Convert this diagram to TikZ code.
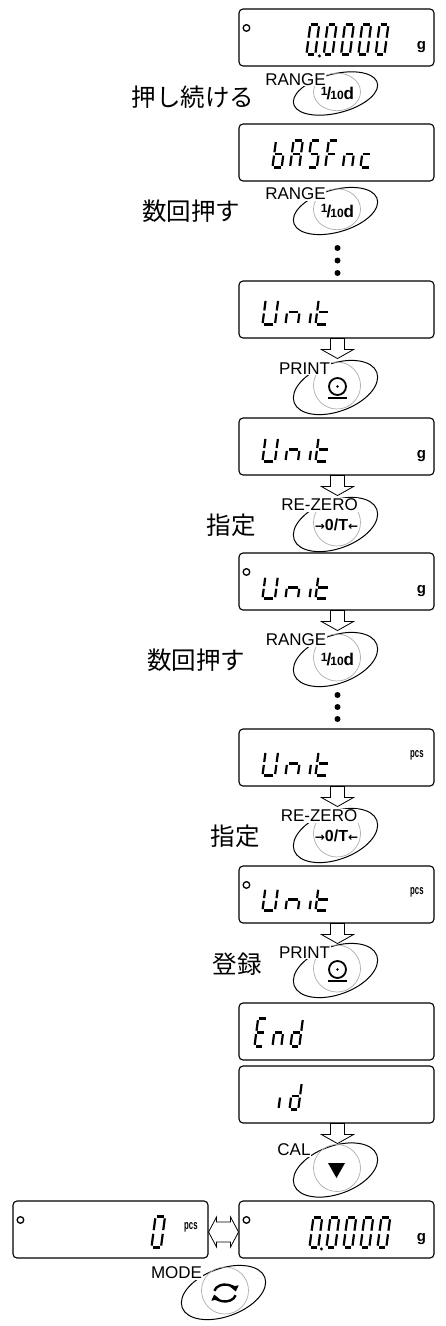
\documentclass[tikz,border=0pt]{standalone}
\usepackage{fontspec}
\setmainfont{Liberation Sans}
\newfontfamily\jpfont{Noto Sans CJK JP}
\newfontfamily\symfont{DejaVu Sans}
\usetikzlibrary{calc,arrows.meta}

% seven segment pieces, cell 1 wide and 2 high
\def\sega{\draw[segline] (0.12,2) -- (0.88,2);}
\def\segb{\draw[segline] (1,1.88) -- (1,1.12);}
\def\segc{\draw[segline] (1,0.88) -- (1,0.12);}
\def\segd{\draw[segline] (0.12,0) -- (0.88,0);}
\def\sege{\draw[segline] (0,0.12) -- (0,0.88);}
\def\segf{\draw[segline] (0,1.12) -- (0,1.88);}
\def\segg{\draw[segline] (0.12,1) -- (0.88,1);}
\def\chzero{a,b,c,d,e,f}
\def\chU{b,c,d,e,f}
\def\chn{c,e,g}
\def\chi{e}
\def\cht{d,e,f,g}
\def\chd{b,c,d,e,g}

% x, y (lower left), width, height, segments
\newcommand{\segchar}[5]{%
  \begin{scope}[shift={(#1,#2)}, x={(#3pt,0pt)}, y={({0.066*#4pt},{0.5*#4pt})}]
    \edef\seglist{#5}%
    \foreach \s in \seglist {\csname seg\s\endcsname}
  \end{scope}}
\newcommand{\unitword}[2]{% bottom, height
  \segchar{24}{#1}{12.5}{#2}{\chU}
  \segchar{47}{#1}{12.5}{#2}{\chn}
  \segchar{71}{#1}{12.5}{#2}{\chi}
  \segchar{77}{#1}{12.5}{#2}{\cht}}
\newcommand{\blockdown}[1]{%
  \draw[blockarrow] ($(#1.south)+(-6,0)$) -- ++(0,11) -- ++(-9,0) -- ++(16,9)
    -- ++(16,-9) -- ++(-9,0) -- ++(0,-11) -- cycle;}

\begin{document}
\begin{tikzpicture}[x=1pt, y=-1pt,
    lcd/.style={draw, line width=1.1pt, rounded corners=4pt, minimum width=195pt, minimum height=57pt, inner sep=0pt},
    segline/.style={line width=2.2pt, line cap=butt},
    lamp/.style={line width=1.3pt},
    keyring/.style={line width=1pt},
    keyface/.style={draw=gray!65, line width=0.7pt},
    keyname/.style={fill=white, inner sep=0.6pt, font=\fontsize{17}{17}\selectfont},
    keysym/.style={inner sep=0pt, font=\fontsize{17}{17}\selectfont\bfseries},
    jptext/.style={inner sep=0pt, font=\fontsize{24.5}{26}\jpfont},
    unitg/.style={inner sep=0pt, font=\fontsize{15}{15}\selectfont\bfseries},
    unitpcs/.style={inner sep=0pt, font=\fontsize{13}{13}\selectfont\bfseries},
    blockarrow/.style={draw, line width=0.8pt, fill=white}]
\useasboundingbox (0,0) rectangle (446,1326);

% displays
\node[lcd] (d1) at (336.5,37.5) {};
\node[lcd] (d2) at (336.5,152.5) {};
\node[lcd] (d3) at (336.5,309.5) {};
\node[lcd] (d4) at (336.5,446.5) {};
\node[lcd] (d5) at (336.5,581.5) {};
\node[lcd] (d6) at (336.5,757.5) {};
\node[lcd] (d7) at (336.5,894.5) {};
\node[lcd] (d8) at (336.5,1031.5) {};
\node[lcd] (d9) at (336.5,1094.5) {};
\node[lcd] (d10) at (336.5,1229.5) {};
\node[lcd] (d11) at (110.5,1229.5) {};

% display contents
\begin{scope}[shift={(d1.north west)}]
  \draw[lamp] (8,19.5) circle (3.3);
  \foreach \cx in {68,85.3,102.6,119.9,137.2} {\segchar{\cx}{46}{8.8}{30}{\chzero}}
  \fill (81,47.5) circle (1.7);
  \node[unitg] (g1) at (183,39) {g};
\end{scope}
\begin{scope}[shift={(d2.north west)}]
  \segchar{34}{44}{9.2}{27}{c,d,e,f,g}
  \segchar{51.6}{44}{9.2}{27}{a,b,c,e,f,g}
  \segchar{69.2}{44}{9.2}{27}{a,c,d,f,g}
  \segchar{86.8}{44}{9.2}{27}{a,e,f,g}
  \segchar{104.4}{44}{9.2}{27}{c,e,g}
  \segchar{122}{44}{9.2}{27}{d,e,g}
\end{scope}
\begin{scope}[shift={(d3.north west)}]
  \unitword{44}{25}
\end{scope}
\begin{scope}[shift={(d4.north west)}]
  \unitword{44}{24}
  \node[unitg] (g4) at (183,39) {g};
\end{scope}
\begin{scope}[shift={(d5.north west)}]
  \draw[lamp] (8,19.5) circle (3.3);
  \unitword{46}{22}
  \node[unitg] (g5) at (183,39) {g};
\end{scope}
\begin{scope}[shift={(d6.north west)}]
  \unitword{47}{24}
  \node[unitpcs] (p6) at (178.5,27) {\scalebox{0.6}[1]{pcs}};
\end{scope}
\begin{scope}[shift={(d7.north west)}]
  \draw[lamp] (8,19.5) circle (3.3);
  \unitword{45}{22}
  \node[unitpcs] (p7) at (178.5,27) {\scalebox{0.6}[1]{pcs}};
\end{scope}
\begin{scope}[shift={(d8.north west)}]
  \segchar{16}{44}{8.8}{28}{a,d,e,f,g}
  \segchar{34}{44}{8.8}{28}{\chn}
  \segchar{52}{44}{8.8}{28}{\chd}
\end{scope}
\begin{scope}[shift={(d9.north west)}]
  \segchar{40}{44}{8.8}{27}{\chi}
  \segchar{51}{44}{8.8}{27}{\chd}
\end{scope}
\begin{scope}[shift={(d10.north west)}]
  \draw[lamp] (8,19.5) circle (3.3);
  \foreach \cx in {71,88,105,122,139} {\segchar{\cx}{47}{8.8}{30}{\chzero}}
  \fill (83,48.5) circle (1.7);
  \node[unitg] (g10) at (183,39) {g};
\end{scope}
\begin{scope}[shift={(d11.north west)}]
  \draw[lamp] (8,19.5) circle (3.3);
  \segchar{139}{47}{9.5}{31}{\chzero}
  \node[unitpcs] (p11) at (178.5,27) {\scalebox{0.6}[1]{pcs}};
\end{scope}

% keys
\foreach \n/\bx/\by/\q in {b1/335.5/93.5/0.8, b2/335.5/211/0.87, b3/335.5/387.5/1,
    b4/335.5/524.5/1, b5/335.5/659.5/1, b6/335.5/835.5/1, b7/335.5/970.5/1,
    b8/335.5/1170/1, b9/223.5/1292.5/1} {
  \coordinate (\n) at (\bx,\by);
  \begin{scope}[shift={(\n)}, yscale=\q]
    \draw[keyring, rotate=20] (0,0) ellipse [x radius=44, y radius=24];
    \draw[keyface] (1.5,-2) circle (23.5);
  \end{scope}
}

% arrows
\blockdown{d3}
\blockdown{d4}
\blockdown{d5}
\blockdown{d6}
\blockdown{d7}
\blockdown{d9}
\draw[blockarrow] ($(d11.east)+(0,2.5)$) -- ++(8,-15) -- ++(0,5) -- ++(14,0) -- ++(0,-5)
  -- ++(8,15) -- ++(-8,15) -- ++(0,-5) -- ++(-14,0) -- ++(0,5) -- cycle;
\foreach \y in {248,260.5,273} \fill (337.5,\y) circle (3);
\foreach \y in {695,707,719} \fill (337.5,\y) circle (3);

% key names
\node[keyname] (k1) at ($(b1)+(-40,-14)$) {RANGE};
\node[keyname] (k2) at ($(b2)+(-40,-17)$) {RANGE};
\node[keyname] (k3) at ($(b3)+(-31,-19)$) {PRINT};
\node[keyname] (k4) at ($(b4)+(-16,-19.5)$) {RE-ZERO};
\node[keyname] (k5) at ($(b5)+(-39.5,-19.5)$) {RANGE};
\node[keyname] (k6) at ($(b6)+(-16.5,-19.5)$) {RE-ZERO};
\node[keyname] (k7) at ($(b7)+(-31,-18)$) {PRINT};
\node[keyname] (k8) at ($(b8)+(-41.5,-20)$) {CAL};
\node[keyname] (k9) at ($(b9)+(-47,-19.5)$) {MODE};

% key faces
\foreach \n in {b1,b2,b5}
  \node[keysym] (\n s) at ($(\n)+(2,0)$) {\raisebox{0.28em}{\fontsize{12}{12}\selectfont 1}\kern-1pt/\kern-1pt{\fontsize{12}{12}\selectfont 10}d};
\foreach \n in {b4,b6}
  \node[keysym, font=\fontsize{16}{16}\selectfont\bfseries] (\n s) at ($(\n)+(1,0.5)$) {{\fontsize{12}{12}\symfont→}0/T{\fontsize{12}{12}\symfont←}};
\foreach \n in {b3,b7} {
  \draw[line width=1.8pt] ($(\n)+(2,-1)$) circle (8.5);
  \fill ($(\n)+(2,-1)$) circle (1.3);
  \draw[line width=2.4pt] ($(\n)+(-7.5,10.5)$) -- ++(19,0);
}
\fill ($(b8)+(-7.5,-7)$) -- ++(17,0) -- ++(-8.5,15) -- cycle;
\begin{scope}[shift={($(b9)+(1.5,0.5)$)}, y=1pt]
  \draw[line width=2.4pt, -{Triangle[length=5.5pt,width=8pt]}] (165:11 and 8.5) arc[start angle=165, end angle=10, x radius=11, y radius=8.5];
  \draw[line width=2.4pt, -{Triangle[length=5.5pt,width=8pt]}] (-15:11 and 8.5) arc[start angle=-15, end angle=-170, x radius=11, y radius=8.5];
\end{scope}

% japanese notes
\node[jptext] (j1) at (193,97) {押し続ける};
\node[jptext] (j2) at (191,211.5) {数回押す};
\node[jptext] (j3) at (231,525) {指定};
\node[jptext] (j4) at (196,660) {数回押す};
\node[jptext] (j5) at (235,836) {指定};
\node[jptext] (j6) at (237,964) {登録};
\end{tikzpicture}
\end{document}
